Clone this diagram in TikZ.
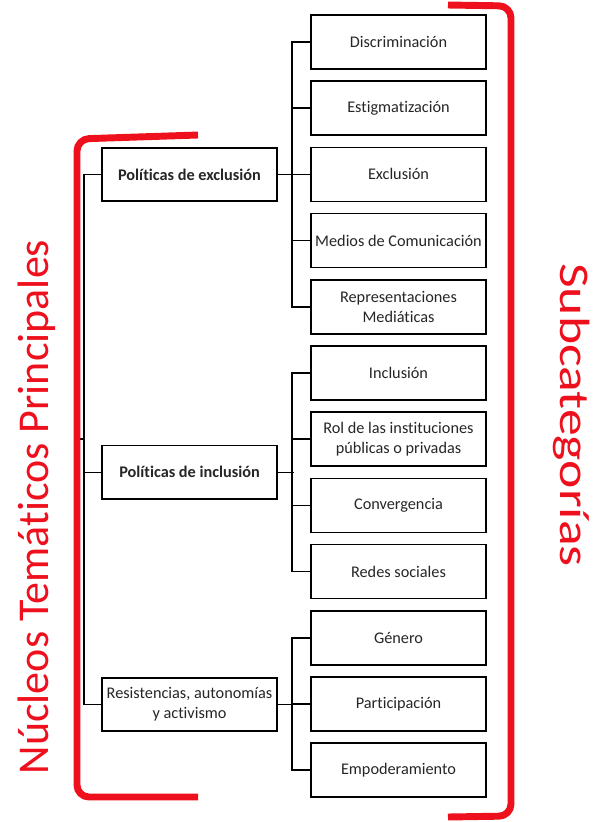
\documentclass[tikz,border=0pt]{standalone}
\usepackage{fontspec}
\usepackage{graphicx}
\setmainfont{Carlito}[Ligatures=NoCommon]
\definecolor{brRed}{RGB}{238,16,28}
\begin{document}
\begin{tikzpicture}[x=0.75pt,y=-0.75pt,
  subbox/.style={draw, line width=1.2pt, minimum width=131.25pt, minimum height=40.5pt, inner sep=1pt, align=center, text=black!85, font=\fontsize{12.2}{14.8}\selectfont},
  mainbox/.style={draw, line width=1.2pt, minimum width=131.25pt, minimum height=40pt, inner sep=1pt, align=center, text=black!85, font=\fontsize{12.2}{14.8}\selectfont},
  conn/.style={line width=1.2pt},
  bracket/.style={brRed, line width=5.2pt, rounded corners=9pt},
  biglabel/.style={text=brRed, inner sep=0pt, font=\fontsize{33}{34}\selectfont}]
\useasboundingbox (0,0) rectangle (602,822);
\fill[white] (0,0) rectangle (602,822);

% subcategory boxes
\node[subbox] (r1) at (398.5,42) {Discriminación};
\node[subbox] (r2) at (398.5,108.2) {Estigmatización};
\node[subbox] (r3) at (398.5,174.4) {Exclusión};
\node[subbox] (r4) at (398.5,240.6) {Medios de Comunicación};
\node[subbox] (r5) at (398.5,306.8) {Representaciones\\Mediáticas};
\node[subbox] (r6) at (398.5,373) {Inclusión};
\node[subbox] (r7) at (398.5,439.2) {Rol de las instituciones\\públicas o privadas};
\node[subbox] (r8) at (398.5,505.4) {Convergencia};
\node[subbox] (r9) at (398.5,571.6) {Redes sociales};
\node[subbox] (r10) at (398.5,637.8) {Género};
\node[subbox] (r11) at (398.5,704) {Participación};
\node[subbox] (r12) at (398.5,770.2) {Empoderamiento};

% main boxes
\node[mainbox] (l1) at (189.5,174.4) {\bfseries Políticas de exclusión};
\node[mainbox] (l2) at (189.5,472.3) {\bfseries Políticas de inclusión};
\node[mainbox] (l3) at (189.5,704.5) {Resistencias, autonomías\\y activismo};

% group buses
\draw[conn] (r1.west) -- ++(-18,0) |- (r5.west);
\foreach \n in {r2,r3,r4} \draw[conn] (\n.west) -- ++(-18,0);
\draw[conn] (r6.west) -- ++(-18,0) |- (r9.west);
\foreach \n in {r7,r8} \draw[conn] (\n.west) -- ++(-18,0);
\draw[conn] (r10.west) -- ++(-18,0) |- (r12.west);
\draw[conn] (r11.west) -- ++(-18,0);
\foreach \n in {l1,l2,l3} \draw[conn] (\n.east) -- ++(16,0);

% main bus
\draw[conn] (l1.west) -- ++(-17,0) |- (l3.west);
\draw[conn] (l2.west) -- ++(-17,0);
\coordinate (stub) at (80,439);
\draw[conn] (stub) -- ++(5,0);

% brackets
\draw[bracket] (198,135) -- (77,139) -- (77,797) -- (198,797);
\draw[bracket] (448,5) -- (511,6) -- (511,816) -- (448,817);

% labels
\node[biglabel, rotate=90] (nucleos) at (37,507) {Núcleos Temáticos Principales};
\node[biglabel, rotate=-90] (subcat) at (572,415) {\scalebox{1.22}[0.96]{Subcategorías}};
\end{tikzpicture}
\end{document}
